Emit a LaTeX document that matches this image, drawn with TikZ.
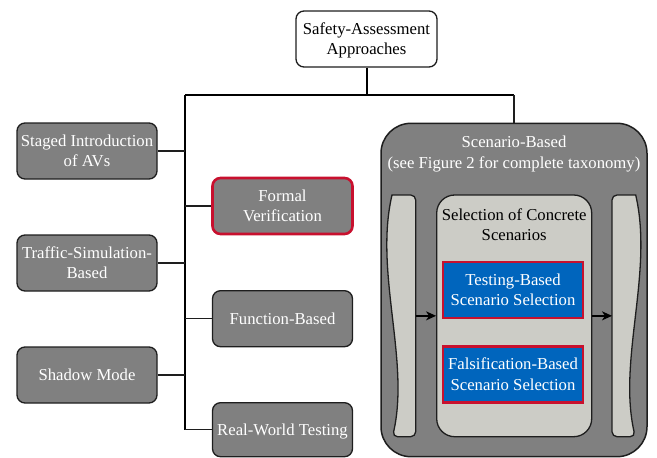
\documentclass[tikz,border=0pt]{standalone}
\usepackage{fontspec}
\setmainfont{Liberation Serif}
\usetikzlibrary{arrows.meta}
\definecolor{boxgray}{RGB}{128,128,128}
\definecolor{lightg}{RGB}{204,204,198}
\definecolor{tumblue}{RGB}{0,101,189}
\definecolor{tumred}{RGB}{200,16,46}
\definecolor{edgec}{RGB}{30,30,30}
\newcommand\lstr{\rule[-3.6pt]{0pt}{18.5pt}}
\begin{document}
\begin{tikzpicture}[x=1pt,y=-1pt,
  every node/.style={font=\fontsize{16.7}{20.3}\selectfont, align=center, inner sep=1pt},
  graybox/.style={draw=edgec, line width=1.3pt, fill=boxgray, rounded corners=8pt, text=white, minimum width=140pt, minimum height=56pt},
  redgray/.style={graybox, draw=tumred, line width=2.6pt},
  bluebox/.style={draw=tumred, line width=2.6pt, fill=tumblue, text=white, minimum width=140pt, minimum height=56pt},
  conn/.style={draw=edgec, line width=1.3pt},
  thickconn/.style={draw=black, line width=2pt},
  tape/.style={draw=edgec, line width=1.3pt, fill=lightg},
  arr/.style={draw=black, line width=1.3pt, -{Stealth[length=10pt,width=9pt,inset=3pt]}}
]
\useasboundingbox (0,0) rectangle (657,458);

% top node
\node[draw=edgec, line width=1.3pt, fill=white, rounded corners=8pt, minimum width=141pt, minimum height=56pt] (top) at (366.5,39) {\lstr Safety-Assessment\\\lstr Approaches};

% scenario-based container
\node[draw=edgec, line width=1.5pt, fill=boxgray, rounded corners=30pt, minimum width=266pt, minimum height=333.4pt] (scen) at (514,290) {};
\node[text=white] (scentitle) at (514,152.5) {\lstr Scenario-Based\\\lstr (see Figure 2 for complete taxonomy)};

% inner selection box
\node[draw=edgec, line width=1.3pt, fill=lightg, rounded corners=18pt, minimum width=155pt, minimum height=241.7pt] (inner) at (514.2,315.85) {};
\node (innertitle) at (514.2,225) {\lstr Selection of Concrete\\\lstr Scenarios};
\node[bluebox] (testing) at (513,290) {\lstr Testing-Based\\\lstr Scenario Selection};
\node[bluebox] (fals) at (513,374.2) {\lstr Falsification-Based\\\lstr Scenario Selection};

% side tapes
\path[tape] (392,195) [rounded corners=5pt] -- (415.7,195) -- (415.7,436.7) -- (392.5,436.7) [sharp corners]
  .. controls (410,360) and (374,272) .. (392,195) -- cycle;
\path[tape] (635.7,195) [rounded corners=5pt] -- (612,195) -- (612,436.7) -- (635.2,436.7) [sharp corners]
  .. controls (617.7,360) and (653.7,272) .. (635.7,195) -- cycle;
\coordinate (lt) at (415.7,315.85);
\coordinate (rt) at (612,315.85);
\draw[arr] (lt) -- (inner.west);
\draw[arr] (inner.east) -- (rt);

% left column
\node[graybox] (staged) at (87,151) {\lstr Staged Introduction\\\lstr of AVs};
\node[graybox] (traffic) at (87,263) {\lstr Traffic-Simulation-\\\lstr Based};
\node[graybox] (shadow) at (87,375) {\lstr Shadow Mode};

% middle column
\node[redgray] (formal) at (282.5,206) {\lstr Formal\\\lstr Verification};
\node[graybox] (func) at (282.5,318.7) {\lstr Function-Based};
\node[graybox, minimum height=54pt] (real) at (282.5,429.7) {\lstr Real-World Testing};

% tree connectors
\coordinate (j) at (366.5,95);
\coordinate (tl) at (185,95);
\coordinate (tr) at (514,95);
\draw[thickconn] (top.south) -- (j);
\draw[thickconn] (tl) -- (tr);
\draw[conn] (tr) -- (scen.north);
\draw[thickconn] (tl) -- (tl |- real.west);
\draw[conn] (staged.east) -- (staged.east -| tl);
\draw[conn] (traffic.east) -- (traffic.east -| tl);
\draw[conn] (shadow.east) -- (shadow.east -| tl);
\draw[conn] (tl |- formal.west) -- (formal.west);
\draw[conn] (tl |- func.west) -- (func.west);
\draw[conn] (tl |- real.west) -- (real.west);
\end{tikzpicture}
\end{document}
